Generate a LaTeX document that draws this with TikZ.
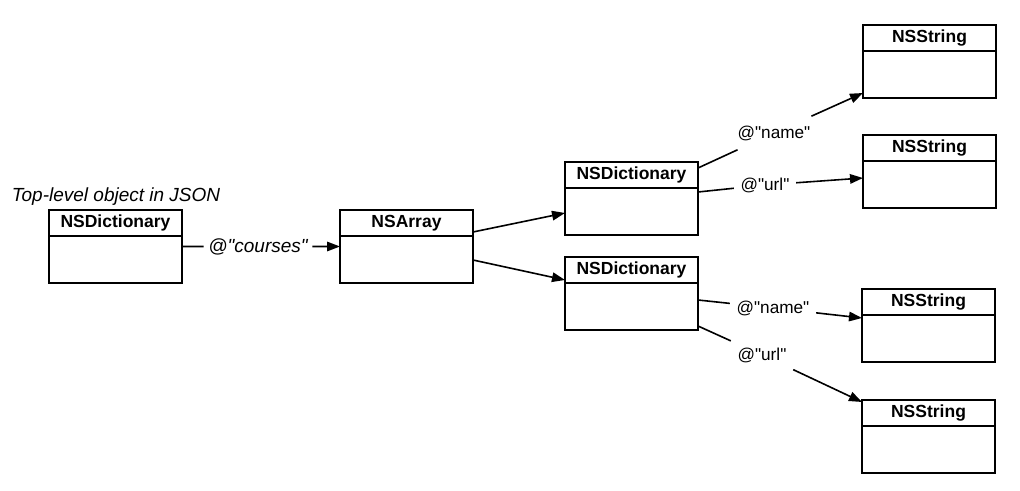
\documentclass[tikz,border=0pt]{standalone}
\usepackage{fontspec}
\setmainfont{Liberation Sans}
\newfontfamily\labfont{Liberation Sans}
\usetikzlibrary{arrows.meta}
\begin{document}
\begin{tikzpicture}[x=1bp,y=-1bp,
  line width=1.6bp,
  box/.style={draw, anchor=north west, minimum width=133bp, minimum height=73bp, inner sep=0pt, outer sep=0pt},
  head/.style={draw, anchor=north, minimum width=133bp, minimum height=26bp, inner sep=0pt, outer sep=0pt,
    font=\fontsize{17.5bp}{20bp}\selectfont\bfseries},
  lab/.style={font=\labfont\fontsize{17.2bp}{20bp}\selectfont, inner xsep=6bp, inner ysep=0pt, minimum height=32bp},
  ilab/.style={font=\labfont\fontsize{19bp}{22bp}\selectfont\itshape, inner xsep=4bp, inner ysep=0pt, minimum height=20bp},
  arr/.style={-{Triangle[length=13bp,width=9.5bp]}}
]
\fill[white] (0,0) rectangle (1020,491);
\useasboundingbox (0,0) rectangle (1020,491);

% boxes
\node[box] (top) at (49,210) {};
\node[head] (toph) at (top.north) {NSDictionary};
\node[box] (arr) at (340,210) {};
\node[head] (arrh) at (arr.north) {NSArray};
\node[box] (d1) at (565,162) {};
\node[head] (d1h) at (d1.north) {NSDictionary};
\node[box] (d2) at (565,257) {};
\node[head] (d2h) at (d2.north) {NSDictionary};
\node[box] (s1) at (863,25) {};
\node[head] (s1h) at (s1.north) {NSString};
\node[box] (s2) at (863,135) {};
\node[head] (s2h) at (s2.north) {NSString};
\node[box] (s3) at (862,289) {};
\node[head] (s3h) at (s3.north) {NSString};
\node[box] (s4) at (862,400) {};
\node[head] (s4h) at (s4.north) {NSString};

% caption
\node[anchor=base west, inner sep=0pt, font=\fontsize{19bp}{22bp}\selectfont\itshape] (cap) at (11,202) {Top-level object in JSON};

% labels
\node[ilab] (lc) at (258,246.5) {@"courses"};
\node[lab] (ln1) at (774,133) {@"name"};
\node[lab] (lu1) at (765,185) {@"url"};
\node[lab] (ln2) at (773,308) {@"name"};
\node[lab] (lu2) at (762,355) {@"url"};

% connectors
\draw (top.east) -- (lc);
\draw[arr] (lc) -- (arr.west);
\draw[arr] ([yshift=14.5bp]arr.east) -- ([yshift=-14.5bp]d1.west);
\draw[arr] ([yshift=-13.5bp]arr.east) -- ([yshift=13.5bp]d2.west);

\draw ([yshift=-6bp]d1.north east) -- (ln1);
\draw[arr] (ln1) -- ([yshift=5bp]s1.south west);
\draw ([yshift=6.5bp]d1.east) -- (lu1);
\draw[arr] (lu1) -- ([yshift=-6.5bp]s2.west);

\draw ([yshift=-6.5bp]d2.east) -- (ln2);
\draw[arr] (ln2) -- ([yshift=7.5bp]s3.west);
\draw ([yshift=4bp]d2.south east) -- (lu2);
\draw[arr] (lu2) -- ([yshift=-2bp]s4.north west);
\end{tikzpicture}
\end{document}
